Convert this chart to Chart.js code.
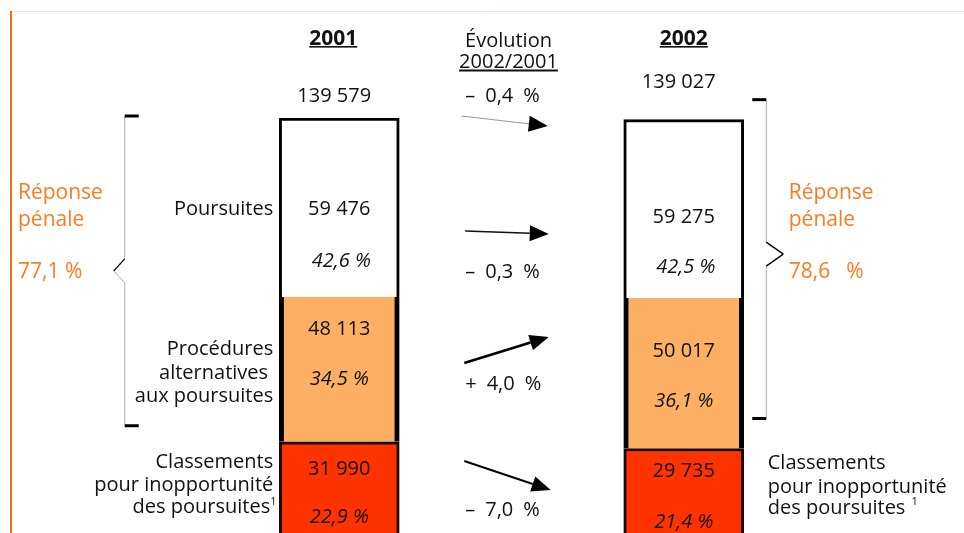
<!DOCTYPE html>
<html lang="fr">
<head>
  <meta charset="UTF-8">
  <title>Réponse pénale 2001 / 2002</title>
  <style>
    html, body {
      margin: 0;
      padding: 0;
      background: #fff;
      overflow: hidden;
    }
    canvas {
      display: block;
    }
  </style>
</head>
<body>
  <canvas id="chart" width="964" height="560"></canvas>

  <script src="https://cdn.jsdelivr.net/npm/chart.js"></script>
  <script>
    // data
    const years = ['2001', '2002'];
    const poursuites = [59476, 59275];
    const alternatives = [48113, 50017];
    const classements = [31990, 29735];
    const totals = [139579, 139027];
    const pctPoursuites = [42.6, 42.5];
    const pctAlternatives = [34.5, 36.1];
    const pctClassements = [22.9, 21.4];
    const reponsePenale = [77.1, 78.6];
    // total, poursuites, alternatives, classements
    const evolution = [-0.4, -0.3, 4.0, -7.0];

    const FONT = '"Open Sans", "Noto Sans", sans-serif';
    const ORANGE_TXT = '#ff7a1f';

    function fmtNum(n) {
      return String(n).replace(/\B(?=(\d{3})+(?!\d))/g, ' ');
    }
    function fmtPct(v) {
      return v.toFixed(1).replace('.', ',') + ' %';
    }
    function fmtEvo(v) {
      return (v < 0 ? '–\u2002' : '+\u2002') + Math.abs(v).toFixed(1).replace('.', ',') + '\u2002%';
    }

    function text(ctx, s, x, y, opt) {
      opt = opt || {};
      ctx.font = (opt.style || '') + ' ' + (opt.weight || 'normal') + ' ' + (opt.size || 20) + 'px ' + FONT;
      ctx.fillStyle = opt.color || '#111';
      ctx.textAlign = opt.align || 'center';
      ctx.textBaseline = 'alphabetic';
      ctx.fillText(s, x, y);
      return ctx.measureText(s).width;
    }

    function arrow(ctx, x1, y1, x2, y2, width, color) {
      const ang = Math.atan2(y2 - y1, x2 - x1);
      const len = 19, half = 8;
      const bx = x2 - Math.cos(ang) * len, by = y2 - Math.sin(ang) * len;
      ctx.strokeStyle = color;
      ctx.lineWidth = width;
      ctx.beginPath();
      ctx.moveTo(x1, y1);
      ctx.lineTo(bx, by);
      ctx.stroke();
      ctx.fillStyle = '#000';
      ctx.beginPath();
      ctx.moveTo(x2, y2);
      ctx.lineTo(bx + Math.sin(ang) * half, by - Math.cos(ang) * half);
      ctx.lineTo(bx - Math.sin(ang) * half, by + Math.cos(ang) * half);
      ctx.closePath();
      ctx.fill();
    }

    // text baselines, per year
    const rows = [
      { total: 102, pVal: 215, pPct: 267, aVal: 335, aPct: 385, cVal: 475, cPct: 523 },
      { total: 88, pVal: 223, pPct: 273, aVal: 357, aPct: 407, cVal: 477, cPct: 528 }
    ];

    const annotate = {
      id: 'annotate',
      afterDraw(chart) {
        const ctx = chart.ctx;
        ctx.save();

        // frame lines
        ctx.strokeStyle = '#fde2d4';
        ctx.lineWidth = 1;
        ctx.beginPath();
        ctx.moveTo(11, 11.5);
        ctx.lineTo(964, 11.5);
        ctx.stroke();
        ctx.strokeStyle = '#ff6a10';
        ctx.lineWidth = 2;
        ctx.beginPath();
        ctx.moveTo(11, 11);
        ctx.lineTo(11, 560);
        ctx.stroke();

        const bars = years.map((y, i) => {
          const top = chart.getDatasetMeta(2).data[i];
          const mid = chart.getDatasetMeta(1).data[i];
          return {
            cx: top.x,
            left: top.x - top.width / 2,
            right: top.x + top.width / 2,
            top: top.y,
            altBottom: mid.base
          };
        });

        // year headings, totals, segment labels
        years.forEach((y, i) => {
          const x = bars[i].cx - (i === 0 ? 6 : 0);
          const w = text(ctx, y, x, 45, { weight: 'bold', size: 21 });
          ctx.fillStyle = '#111';
          ctx.fillRect(x - w / 2, 46, w, 1.6);
          text(ctx, fmtNum(totals[i]), bars[i].cx - 5, rows[i].total);

          const r = rows[i];
          text(ctx, fmtNum(poursuites[i]), bars[i].cx, r.pVal);
          text(ctx, fmtPct(pctPoursuites[i]), bars[i].cx + 2, r.pPct, { style: 'italic' });
          text(ctx, fmtNum(alternatives[i]), bars[i].cx, r.aVal);
          text(ctx, fmtPct(pctAlternatives[i]), bars[i].cx, r.aPct, { style: 'italic' });
          text(ctx, fmtNum(classements[i]), bars[i].cx, r.cVal);
          text(ctx, fmtPct(pctClassements[i]), bars[i].cx, r.cPct, { style: 'italic' });
        });

        // evolution column
        const ex = (bars[0].right + bars[1].left) / 2;
        text(ctx, 'Évolution', ex - 3, 47);
        const w = text(ctx, '2002/2001', ex - 3, 68);
        ctx.fillStyle = '#111';
        ctx.fillRect(ex - 3 - w / 2, 69.5, w, 2);

        const ax1 = bars[0].right + 65, ax2 = bars[1].left - 75;
        arrow(ctx, ax1 - 3, 116, ax2 - 1, 126, 1, '#999');
        arrow(ctx, ax1 + 1, 231, ax2, 234, 1.6, '#111');
        arrow(ctx, ax1, 363, ax2, 337, 2.6, '#000');
        arrow(ctx, ax1, 461, ax2 + 2, 490, 2, '#000');

        const tx = ax1 + 1;
        text(ctx, fmtEvo(evolution[0]), tx, 102, { align: 'left' });
        text(ctx, fmtEvo(evolution[1]), tx, 278, { align: 'left' });
        text(ctx, fmtEvo(evolution[2]), tx, 390, { align: 'left' });
        text(ctx, fmtEvo(evolution[3]), tx, 516, { align: 'left' });

        // left labels
        const lx = bars[0].left - 6;
        text(ctx, 'Poursuites', lx, 215, { align: 'right' });
        text(ctx, 'Procédures', lx, 355, { align: 'right' });
        text(ctx, 'alternatives ', lx, 379, { align: 'right' });
        text(ctx, 'aux poursuites', lx, 402, { align: 'right' });
        text(ctx, 'Classements', lx, 468, { align: 'right' });
        text(ctx, 'pour inopportunité', lx, 491, { align: 'right' });
        text(ctx, 'des poursuites', lx - 3, 513, { align: 'right' });
        text(ctx, '1', lx - 3, 505, { align: 'left', size: 11 });

        // right labels
        const rx = bars[1].right + 24;
        text(ctx, 'Classements', rx, 469, { align: 'left' });
        text(ctx, 'pour inopportunité', rx, 493, { align: 'left' });
        const dw = text(ctx, 'des poursuites ', rx, 514, { align: 'left' });
        text(ctx, '1', rx + dw + 1, 505, { align: 'left', size: 11 });

        // braces
        function brace(x, y1, y2, ym, dx, capLen, dark) {
          ctx.strokeStyle = '#aaa';
          ctx.lineWidth = 1;
          ctx.beginPath();
          ctx.moveTo(x, y1);
          ctx.lineTo(x, ym - 12);
          ctx.moveTo(x, ym + 12);
          ctx.lineTo(x, y2);
          ctx.stroke();
          ctx.lineWidth = 1.4;
          ctx.strokeStyle = '#000';
          ctx.beginPath();
          ctx.moveTo(x, ym - 12);
          ctx.lineTo(x + dx, ym);
          ctx.stroke();
          ctx.strokeStyle = dark ? '#000' : '#aaa';
          ctx.lineWidth = dark ? 1.4 : 1;
          ctx.beginPath();
          ctx.moveTo(x + dx, ym);
          ctx.lineTo(x, ym + 12);
          ctx.stroke();
          ctx.fillStyle = '#000';
          ctx.fillRect(Math.min(x, x + capLen), y1 - 1.5, Math.abs(capLen), 3);
          ctx.fillRect(Math.min(x, x + capLen), y2 - 1.5, Math.abs(capLen), 3);
        }
        const b0x = bars[0].left - 154.5;
        brace(b0x, bars[0].top - 2, bars[0].altBottom - 16, (bars[0].top + bars[0].altBottom - 18) / 2, -11, 14, false);
        const b1x = bars[1].right + 22.5;
        brace(b1x, bars[1].top - 20, bars[1].altBottom - 30, (bars[1].top + bars[1].altBottom) / 2 - 30, 17, -14, true);

        // réponse pénale
        text(ctx, 'Réponse', 18, 199, { align: 'left', color: ORANGE_TXT, size: 21 });
        text(ctx, 'pénale', 18, 226, { align: 'left', color: ORANGE_TXT, size: 21 });
        text(ctx, fmtPct(reponsePenale[0]), 18, 278, { align: 'left', color: ORANGE_TXT, size: 21 });
        text(ctx, 'Réponse', rx + 21, 199, { align: 'left', color: ORANGE_TXT, size: 21 });
        text(ctx, 'pénale', rx + 21, 226, { align: 'left', color: ORANGE_TXT, size: 21 });
        text(ctx, fmtPct(reponsePenale[1]).replace(' ', '\u2002 '), rx + 21, 278, { align: 'left', color: ORANGE_TXT, size: 21 });

        ctx.restore();
      }
    };

    new Chart(document.getElementById('chart'), {
      type: 'bar',
      data: {
        labels: years,
        datasets: [
          {
            label: 'Classements pour inopportunité des poursuites',
            data: classements,
            backgroundColor: '#ff3300',
            borderColor: '#1c0600',
            borderWidth: { top: 3, left: 3, right: 3, bottom: 3 },
            borderSkipped: false
          },
          {
            label: 'Procédures alternatives aux poursuites',
            data: alternatives,
            backgroundColor: '#fdb064',
            borderColor: '#000',
            borderWidth: { top: 0, left: 5, right: 5, bottom: 0 },
            borderSkipped: false
          },
          {
            label: 'Poursuites',
            data: poursuites,
            backgroundColor: '#fff',
            borderColor: '#000',
            borderWidth: { top: 3, left: 3, right: 3, bottom: 0 },
            borderSkipped: false
          }
        ]
      },
      options: {
        responsive: false,
        animation: false,
        layout: { padding: { left: 167, right: 108, top: 118, bottom: 22 } },
        datasets: { bar: { barThickness: 120 } },
        scales: {
          x: { stacked: true, display: false, offset: true },
          y: { stacked: true, display: false, min: 0, max: Math.max(...totals) }
        },
        plugins: {
          legend: { display: false },
          tooltip: { enabled: false }
        }
      },
      plugins: [annotate]
    });
  </script>
</body>
</html>
